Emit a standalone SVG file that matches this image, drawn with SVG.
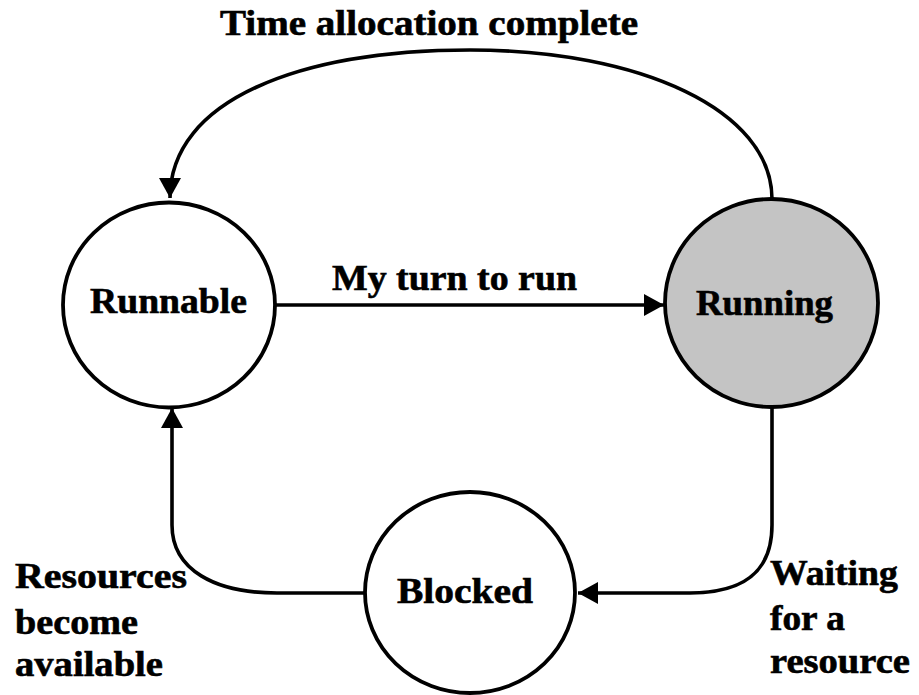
<svg xmlns="http://www.w3.org/2000/svg" width="919" height="695" viewBox="0 0 919 695">
  <style>
    .state { fill: #ffffff; stroke: #000000; stroke-width: 3.8; }
    .state.active { fill: #c4c4c4; }
    .edge { fill: none; stroke: #000000; stroke-width: 3.6; marker-end: url(#arrow); }
    text { font-family: "Liberation Serif", "Times New Roman", serif; font-weight: bold; fill: #000000; stroke: #000000; stroke-width: 0.6; }
    .name { font-size: 36px; }
    .label { font-size: 35px; }
  </style>
  <defs>
    <marker id="arrow" markerUnits="userSpaceOnUse" markerWidth="22" markerHeight="24" refX="20" refY="12" orient="auto">
      <path d="M0,1 L20,12 L0,23 z" fill="#000000"/>
    </marker>
  </defs>
  <rect width="919" height="695" fill="#ffffff"/>

  <!-- transitions -->
  <g id="connectors">
    <path class="edge" d="M772,199 C772,110 640,50 470,50 C300,50 170,100 170,198"/>
    <path class="edge" d="M276,305 L664,305"/>
    <path class="edge" d="M772,407 L772,525 C772,575 740,593 690,593 L578,593"/>
    <path class="edge" d="M365,593 L277,593 C215,593 172,570 172,525 L172,408"/>
  </g>

  <!-- states -->
  <g id="runnable">
    <ellipse class="state" cx="169" cy="305" rx="106" ry="102.5"/>
    <text class="name" x="90" y="313" textLength="157" lengthAdjust="spacingAndGlyphs">Runnable</text>
  </g>
  <g id="running">
    <ellipse class="state active" cx="771.5" cy="303" rx="106.5" ry="104"/>
    <text class="name" x="696" y="315" textLength="137" lengthAdjust="spacingAndGlyphs">Running</text>
  </g>
  <g id="blocked">
    <ellipse class="state" cx="470" cy="592.5" rx="105" ry="100.5"/>
    <text class="name" x="397" y="603" textLength="136" lengthAdjust="spacingAndGlyphs">Blocked</text>
  </g>

  <!-- transition labels -->
  <g id="labels">
    <text class="label" x="220" y="35" textLength="418" lengthAdjust="spacingAndGlyphs">Time allocation complete</text>
    <text class="label" x="332" y="290" font-size="34" textLength="245" lengthAdjust="spacingAndGlyphs">My turn to run</text>
    <text class="label" x="15" y="588" textLength="172" lengthAdjust="spacingAndGlyphs">Resources</text>
    <text class="label" x="15" y="634" textLength="123" lengthAdjust="spacingAndGlyphs">become</text>
    <text class="label" x="15" y="676" textLength="148" lengthAdjust="spacingAndGlyphs">available</text>
    <text class="label" x="770" y="585" textLength="128" lengthAdjust="spacingAndGlyphs">Waiting</text>
    <text class="label" x="770" y="630" textLength="75" lengthAdjust="spacingAndGlyphs">for a</text>
    <text class="label" x="770" y="673" textLength="140" lengthAdjust="spacingAndGlyphs">resource</text>
  </g>
</svg>
